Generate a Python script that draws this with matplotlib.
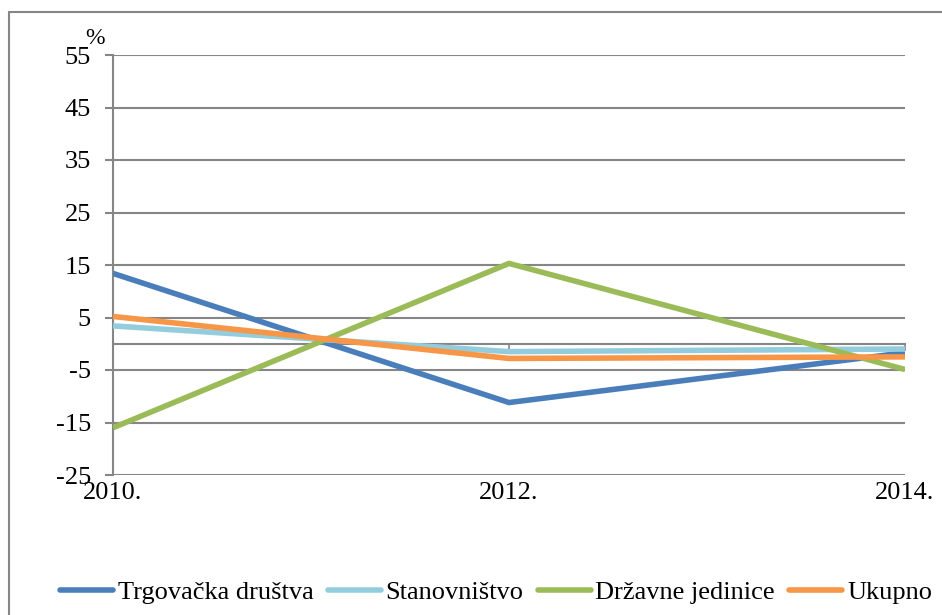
import matplotlib
matplotlib.use("Agg")
import matplotlib.pyplot as plt
from matplotlib.patches import Rectangle

years = ["2010.", "2012.", "2014."]
series_names = ["Trgovačka društva", "Stanovništvo", "Državne jedinice", "Ukupno"]
trgovacka = [13.4, -11.2, -1.7]
stanovnistvo = [3.4, -1.5, -1.0]
drzavne = [-16.0, 15.3, -4.9]
ukupno = [5.2, -2.8, -2.5]
yticks = [55, 45, 35, 25, 15, 5, -5, -15, -25]

colors = ["#4A7EBB", "#93CDDD", "#9BBB59", "#F79646"]
values = [trgovacka, stanovnistvo, drzavne, ukupno]

plt.rcParams['font.family'] = ['Liberation Serif', 'DejaVu Serif']

fig = plt.figure(figsize=(9.42, 6.15), dpi=100)
ax = fig.add_axes([113/942, (615-475)/615, (905-113)/942, (475-55)/615])

x = list(range(len(years)))
lines = []
for name, vals, c in zip(series_names, values, colors):
    ln, = ax.plot(x, vals, color=c, lw=4.0, label=name, solid_capstyle='butt', solid_joinstyle='miter', zorder=3)
    lines.append(ln)

ax.set_xlim(0, len(years) - 1)
ax.set_ylim(-25, 55)
ax.set_yticks(yticks)
ax.set_yticklabels([str(v) for v in yticks])
ax.yaxis.grid(True, color="#868686", lw=1.5)
ax.set_axisbelow(True)
grid_color = "#868686"
for s in ["top", "right"]:
    ax.spines[s].set_visible(False)
ax.spines["left"].set_color(grid_color)
ax.spines["left"].set_linewidth(1.5)
ax.spines["bottom"].set_position(("data", 0))
ax.spines["bottom"].set_color(grid_color)
ax.spines["bottom"].set_linewidth(1.5)
ax.tick_params(axis="y", direction="out", length=6, width=1.5, color=grid_color, labelsize=19, pad=10)
ax.set_xticks(x)
ax.tick_params(axis="x", direction="out", length=5, width=1.2, color=grid_color, labelbottom=False)

sec = ax.secondary_xaxis(0)
sec.set_xticks(x)
sec.set_xticklabels(years)
sec.tick_params(axis="x", length=0, labelsize=19, pad=5)
sec.spines["bottom"].set_visible(False)

fig.text(95/942, 1 - 39/615, "%", fontsize=17, ha="center", va="center")

fig.legend(handles=lines, loc="center", bbox_to_anchor=(496/942, 1 - 592/615), ncol=4, frameon=False,
           fontsize=19, handlelength=2.0, handletextpad=0.18, columnspacing=0.55)
for lh in fig.legends[0].get_lines():
    lh.set_solid_capstyle('round')

fig.patches.append(Rectangle((8.5/942, -0.1), 1.2, 1.1 - 11.5/615, transform=fig.transFigure,
                             fill=False, edgecolor="#868686", lw=1.5))

fig.savefig("out.png", dpi=100)
